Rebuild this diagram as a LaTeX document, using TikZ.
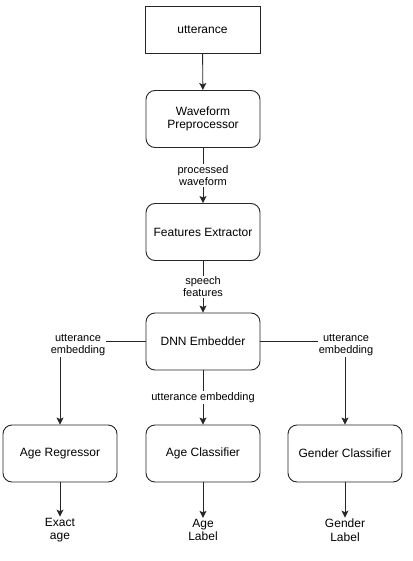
\documentclass[tikz,border=0pt]{standalone}
\usepackage{fontspec}
\setmainfont{Liberation Sans}
\usetikzlibrary{arrows.meta}
\begin{document}
\begin{tikzpicture}[x=1pt,y=-1pt,
  box/.style={draw=black!85, line width=0.9pt, minimum width=114pt, minimum height=57pt, inner sep=0pt, align=center, font=\fontsize{12}{13}\selectfont},
  rbox/.style={box, rounded corners=9pt},
  elabel/.style={fill=white, inner sep=1pt, align=center, font=\fontsize{11}{12}\selectfont},
  outlabel/.style={inner sep=1pt, align=center, font=\fontsize{12}{13.5}\selectfont},
  conn/.style={draw=black!85, line width=0.9pt, -{Stealth[length=7pt,width=7pt,inset=1.5pt]}}]
\useasboundingbox (0,0) rectangle (412,561);
\node[box, minimum width=115pt, minimum height=47pt] (utt) at (202.5,29.5) {utterance};
\node[rbox] (wp) at (203,119) {Waveform\\Preprocessor};
\node[rbox] (fe) at (203,232) {Features Extractor};
\node[rbox] (dnn) at (203,341.5) {DNN Embedder};
\node[rbox] (ar) at (60,453.5) {Age Regressor};
\node[rbox] (ac) at (203,453.5) {Age Classifier};
\node[rbox] (gc) at (345,453.5) {Gender Classifier};
\node[outlabel] (ea) at (60,530) {Exact\\age};
\node[outlabel] (al) at (203,530) {Age\\Label};
\node[outlabel] (gl) at (345,530) {Gender\\Label};
\draw[conn] (utt) -- (wp);
\draw[conn] (wp) -- node[elabel] {processed\\waveform} (fe);
\draw[conn] (fe) -- node[elabel] {speech\\features} (dnn);
\draw[conn] (dnn) -- node[elabel] {utterance embedding} (ac);
\draw[conn] (dnn.west) -| (ar.north);
\node[elabel] (lel) at (78,345) {utterance\\embedding};
\draw[conn] (dnn.east) -| (gc.north);
\node[elabel] (rel) at (346,345) {utterance\\embedding};
\draw[conn] (ar) -- (ea);
\draw[conn] (ac) -- (al);
\draw[conn] (gc) -- (gl);
\end{tikzpicture}
\end{document}
